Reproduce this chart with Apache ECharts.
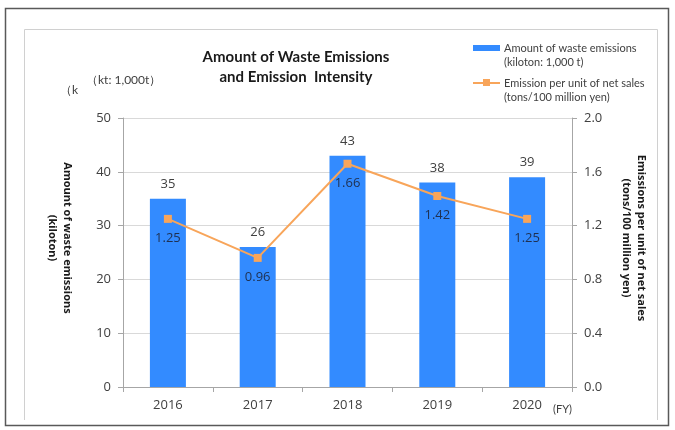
<!DOCTYPE html>
<html><head><meta charset="utf-8">
<script src="https://cdn.jsdelivr.net/npm/echarts@6/dist/echarts.min.js"></script>
<style>html,body{margin:0;padding:0;background:#fff}#c{width:675px;height:430px}</style>
</head><body><div id="c"></div>
<script>
const categories = ['2016','2017','2018','2019','2020'];
const wasteAmount = [35, 26, 43, 38, 39];
const intensity = [1.25, 0.96, 1.66, 1.42, 1.25];
const leftTicks = [0, 10, 20, 30, 40, 50];
const rightTicks = [0, 0.4, 0.8, 1.2, 1.6, 2.0];

const FONT = 'Open Sans, DejaVu Sans, sans-serif';
const NFONT = 'Lato, Open Sans, sans-serif';
const chart = echarts.init(document.getElementById('c'), null, {renderer:'canvas'});
chart.setOption({
  backgroundColor:'#fff',
  animation:false,
  textStyle:{fontFamily:FONT},
  grid:{left:123,right:103,top:118,bottom:43,containLabel:false},
  legend:{show:false},
  xAxis:{type:'category',data:categories,
    axisLine:{lineStyle:{color:'#a6a6a6'}},
    axisTick:{show:true,alignWithLabel:false,length:5,lineStyle:{color:'#a6a6a6'}},
    axisLabel:{color:'#404040',fontSize:13,margin:12,fontFamily:FONT}},
  yAxis:[
    {type:'value',min:leftTicks[0],max:leftTicks[leftTicks.length-1],interval:10,
     axisLine:{show:true,lineStyle:{color:'#a6a6a6'}},
     axisTick:{show:true,length:5,lineStyle:{color:'#a6a6a6'}},
     splitLine:{lineStyle:{color:'#d9d9d9'}},
     axisLabel:{color:'#404040',fontSize:13,margin:12,fontFamily:FONT}},
    {type:'value',min:rightTicks[0],max:rightTicks[rightTicks.length-1],interval:0.4,
     axisLine:{show:true,lineStyle:{color:'#a6a6a6'}},
     axisTick:{show:true,length:5,lineStyle:{color:'#a6a6a6'}},
     splitLine:{show:false},
     axisLabel:{color:'#404040',fontSize:13,margin:12,fontFamily:FONT,
       formatter:v=>v.toFixed(1)}}
  ],
  series:[
    {name:'Amount of waste emissions',type:'bar',data:wasteAmount,barWidth:36,
     itemStyle:{color:'#338bff'},
     label:{show:true,position:'top',distance:8,color:'#404040',fontSize:13,fontFamily:FONT}},
    {name:'Emission per unit of net sales',type:'line',yAxisIndex:1,data:intensity,
     symbol:'rect',symbolSize:8,
     lineStyle:{color:'#f8a55a',width:2},itemStyle:{color:'#f8a55a'},
     label:{show:true,position:'bottom',distance:9,color:'#1f3050',fontSize:13,fontFamily:FONT,
       formatter:p=>p.value.toFixed(2)}}
  ],
  graphic:[
    {type:'rect',shape:{x:5.5,y:8.5,width:663,height:417},style:{fill:null,stroke:'#595959',lineWidth:1.5},silent:true},
    {type:'polyline',shape:{points:[[24.5,420],[24.5,29.5],[657.5,29.5],[657.5,420]]},style:{fill:null,stroke:'#d0d0d0',lineWidth:1},silent:true},
    {type:'text',style:{x:296,y:57,text:'Amount of Waste Emissions',textAlign:'center',textVerticalAlign:'middle',font:'bold 15px '+NFONT,fill:'#1a1a1a'}},
    {type:'text',style:{x:296,y:77,text:'and Emission  Intensity',textAlign:'center',textVerticalAlign:'middle',font:'bold 15px '+NFONT,fill:'#1a1a1a'}},
    {type:'rect',shape:{x:473,y:45,width:27,height:6},style:{fill:'#338bff'}},
    {type:'text',style:{x:504,y:48,text:'Amount of waste emissions',textVerticalAlign:'middle',font:'11px '+NFONT,fill:'#404040'}},
    {type:'text',style:{x:504,y:62,text:'(kiloton: 1,000 t)',textVerticalAlign:'middle',font:'11px '+NFONT,fill:'#404040'}},
    {type:'line',shape:{x1:473,y1:83,x2:500,y2:83},style:{stroke:'#f8a55a',lineWidth:2}},
    {type:'rect',shape:{x:483,y:79,width:7,height:7},style:{fill:'#f8a55a'}},
    {type:'text',style:{x:504,y:83,text:'Emission per unit of net sales',textVerticalAlign:'middle',font:'11px '+NFONT,fill:'#404040'}},
    {type:'text',style:{x:504,y:97,text:'(tons/100 million yen)',textVerticalAlign:'middle',font:'11px '+NFONT,fill:'#404040'}},
    {type:'text',style:{x:60,y:90,text:'（k',textVerticalAlign:'middle',font:'12px '+NFONT,fill:'#404040'}},
    {type:'text',style:{x:86,y:80,text:'（kt: 1,000t）',textVerticalAlign:'middle',font:'12px '+NFONT,fill:'#404040'}},
    {type:'text',style:{x:553,y:409,text:'(FY)',textVerticalAlign:'middle',font:'11px '+NFONT,fill:'#404040'}},
    {type:'text',x:67,y:238,rotation:-Math.PI/2,style:{x:0,y:0,text:'Amount of waste emissions',textAlign:'center',textVerticalAlign:'middle',font:'bold 11px '+FONT,fill:'#1a1a1a'}},
    {type:'text',x:52,y:238,rotation:-Math.PI/2,style:{x:0,y:0,text:'(kiloton)',textAlign:'center',textVerticalAlign:'middle',font:'bold 11px '+FONT,fill:'#1a1a1a'}},
    {type:'text',x:641,y:238,rotation:-Math.PI/2,style:{x:0,y:0,text:'Emissions per unit of net sales',textAlign:'center',textVerticalAlign:'middle',font:'bold 11px '+FONT,fill:'#1a1a1a'}},
    {type:'text',x:626,y:238,rotation:-Math.PI/2,style:{x:0,y:0,text:'(tons/100 million yen)',textAlign:'center',textVerticalAlign:'middle',font:'bold 11px '+FONT,fill:'#1a1a1a'}}
  ]
});
</script></body></html>
